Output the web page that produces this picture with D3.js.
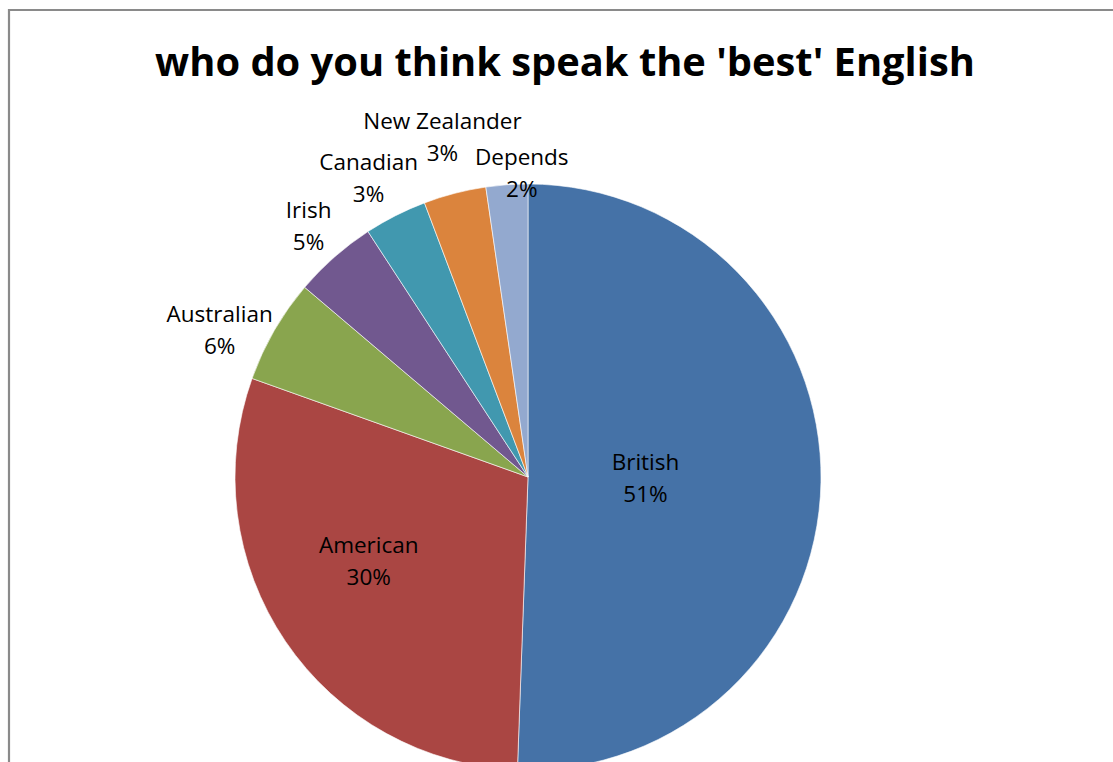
<!DOCTYPE html>
<html>
<head>
<meta charset="utf-8">
<script src="https://cdn.jsdelivr.net/npm/d3@7"></script>
<style>
  html, body { margin: 0; padding: 0; background: #fff; overflow: hidden; }
  svg { display: block; }
  text { font-family: "Open Sans", "Noto Sans", sans-serif; fill: #000; }
</style>
</head>
<body>
<svg id="chart" width="1113" height="762"></svg>
<script>
// answers (counts)
const categories = ["British", "American", "Australian", "Irish", "Canadian", "New Zealander", "Depends"];
const counts = [44, 26, 5, 4, 3, 3, 2];
const colors = ["#4572A7", "#AA4643", "#89A54E", "#71588F", "#4198AF", "#DB843D", "#93A9CF"];
const insideLabels = ["British", "American"];
const titleText = "who do you think speak the 'best' English";

// Excel moves a few labels to dodge each other; small pixel nudges
const labelNudge = {
  "British": [-29, -2],
  "American": [-38, 2],
  "Australian": [0, 20],
  "Irish": [-4, 0],
  "Canadian": [0, 0],
  "New Zealander": [10, -16],
  "Depends": [19, 30]
};

const width = 1113, height = 762;
const cx = 528, cy = 477, radius = 293;
const lineGap = 32;

const svg = d3.select("#chart");

// chart frame (only the top and left edges show in the crop)
svg.append("path")
  .attr("d", `M9,${height + 5} V10 H${width + 5}`)
  .attr("fill", "none")
  .attr("stroke", "#8a8a8a")
  .attr("stroke-width", 2.2);

const title = svg.append("text")
  .attr("x", 565)
  .attr("y", 76)
  .attr("text-anchor", "middle")
  .attr("font-weight", 700)
  .attr("font-size", 40)
  .text(titleText);
// fit the title to the width it has in the original
const tw = title.node().getComputedTextLength();
title.attr("font-size", 40 * 820 / tw);

const data = categories.map((name, i) => ({ name, value: counts[i], color: colors[i] }));
const total = d3.sum(counts);

const pie = d3.pie().sort(null).value((d) => d.value);
const arcs = pie(data);
const arc = d3.arc().innerRadius(0).outerRadius(radius);

const g = svg.append("g").attr("transform", `translate(${cx},${cy})`);

g.selectAll("path.slice")
  .data(arcs)
  .join("path")
  .attr("class", "slice")
  .attr("d", arc)
  .attr("fill", (d) => d.data.color)
  .attr("stroke", "#ffffff")
  .attr("stroke-width", 0.6);

const labels = g.selectAll("g.label")
  .data(arcs)
  .join("g")
  .attr("class", "label");

labels.each(function (d) {
  const el = d3.select(this);
  const pct = Math.round(d.data.value / total * 100) + "%";
  const t = el.append("text")
    .attr("text-anchor", "middle")
    .attr("font-size", 22.5);
  t.append("tspan").attr("x", 0).attr("y", -lineGap / 2 + 8).text(d.data.name);
  t.append("tspan").attr("x", 0).attr("y", lineGap / 2 + 8).text(pct);

  const mid = (d.startAngle + d.endAngle) / 2;
  const ux = Math.sin(mid), uy = -Math.cos(mid);
  let px, py;
  if (insideLabels.includes(d.data.name)) {
    [px, py] = arc.centroid(d);
  } else {
    const w = el.node().getBBox().width / 2;
    const h = lineGap;
    px = (radius + 10) * ux + ux * w;
    py = (radius + 10) * uy + uy * h;
  }
  const nudge = labelNudge[d.data.name] || [0, 0];
  el.attr("transform", `translate(${px + nudge[0]},${py + nudge[1]})`);
});
</script>
</body>
</html>
